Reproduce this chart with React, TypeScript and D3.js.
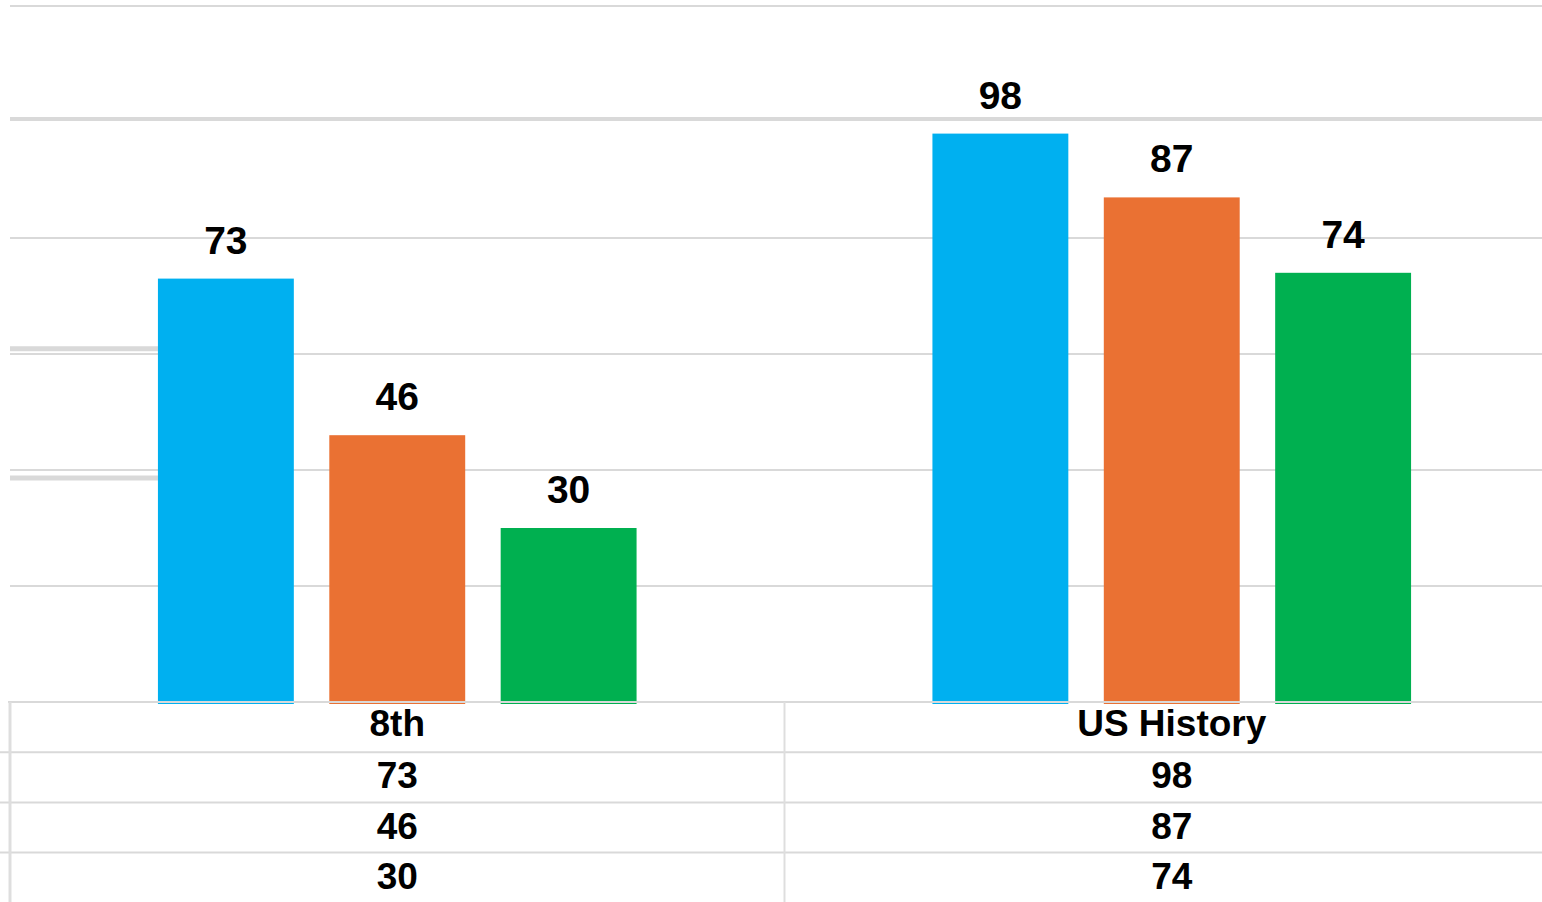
import React from "react";
import * as d3 from "d3";

const WIDTH = 1542;
const HEIGHT = 902;
const MARGIN = { top: 6, left: 10, right: -17, bottom: 200 };

const categories = ["8th", "US History"];
const seriesNames = ["Series A", "Series B", "Series C"];
const seriesA = [73, 98];
const seriesB = [46, 87];
const seriesC = [30, 74];
const colors = ["#00B0F0", "#EA7133", "#00B050"];
const gridTicks = [0, 20, 40, 60, 80, 100, 120];
const ghostTicks = [60.9, 38.6];

const ROW_H = 50.2;
const FONT = "'Liberation Sans', Arial, sans-serif";

export default function App() {
  const values = [seriesA, seriesB, seriesC];
  const plotBottom = HEIGHT - MARGIN.bottom;

  const x0 = d3
    .scaleBand()
    .domain(categories)
    .range([MARGIN.left, WIDTH - MARGIN.right]);
  const bw = x0.bandwidth();
  const x1 = d3
    .scaleBand()
    .domain(seriesNames)
    .range([bw * 0.191, bw * 0.809])
    .paddingInner(0.207)
    .paddingOuter(0);
  const y = d3
    .scaleLinear()
    .domain([0, 120])
    .range([plotBottom, MARGIN.top]);

  const grid = "#d9d9d9";

  return (
    <svg
      width={WIDTH}
      height={HEIGHT}
      style={{ position: "fixed", left: 0, top: 0, display: "block", background: "#fff" }}
    >
      {gridTicks.slice(1).map(t => (
        <line
          key={t}
          x1={MARGIN.left}
          x2={WIDTH}
          y1={y(t) - (t === 100 ? 3 : 0)}
          y2={y(t) - (t === 100 ? 3 : 0)}
          stroke={grid}
          strokeWidth={t === 100 ? 4 : 2}
        />
      ))}
      {ghostTicks.map(t => (
        <line
          key={t}
          x1={MARGIN.left}
          x2={x0(categories[0]) + x1(seriesNames[0])}
          y1={y(t)}
          y2={y(t)}
          stroke={grid}
          strokeWidth={5}
        />
      ))}

      {categories.map((c, ci) => (
        <g key={c} transform={`translate(${x0(c)},0)`}>
          {seriesNames.map((s, si) => {
            const v = values[si][ci];
            return (
              <g key={s}>
                <rect
                  x={x1(s)}
                  y={y(v)}
                  width={x1.bandwidth()}
                  height={plotBottom - y(v) + 2}
                  fill={colors[si]}
                />
                <text
                  x={x1(s) + x1.bandwidth() / 2}
                  y={y(v) - 25}
                  textAnchor="middle"
                  fontFamily={FONT}
                  fontWeight="bold"
                  fontSize={39}
                  fill="#000"
                >
                  {v}
                </text>
              </g>
            );
          })}
        </g>
      ))}

      {/* data table */}
      <line x1={8} x2={WIDTH} y1={plotBottom} y2={plotBottom} stroke={grid} strokeWidth={2} />
      {[1, 2, 3].map(r => (
        <line
          key={r}
          x1={0}
          x2={WIDTH}
          y1={plotBottom + r * ROW_H}
          y2={plotBottom + r * ROW_H}
          stroke={grid}
          strokeWidth={2}
        />
      ))}
      <line x1={MARGIN.left} x2={MARGIN.left} y1={plotBottom} y2={HEIGHT} stroke="#dedede" strokeWidth={3} />
      {categories.slice(1).map(c => (
        <line key={c} x1={x0(c)} x2={x0(c)} y1={plotBottom} y2={HEIGHT} stroke="#dedede" strokeWidth={2} />
      ))}
      {categories.map((c, ci) => {
        const cx = x0(c) + bw / 2;
        const rows = [c, ...values.map(vs => String(vs[ci]))];
        return rows.map((txt, ri) => (
          <text
            key={c + ri}
            x={cx}
            y={plotBottom + ri * ROW_H + ROW_H / 2 + (ri === 0 ? 9 : 11)}
            textAnchor="middle"
            fontFamily={FONT}
            fontWeight="bold"
            fontSize={37}
            fill="#000"
          >
            {txt}
          </text>
        ));
      })}
    </svg>
  );
}
